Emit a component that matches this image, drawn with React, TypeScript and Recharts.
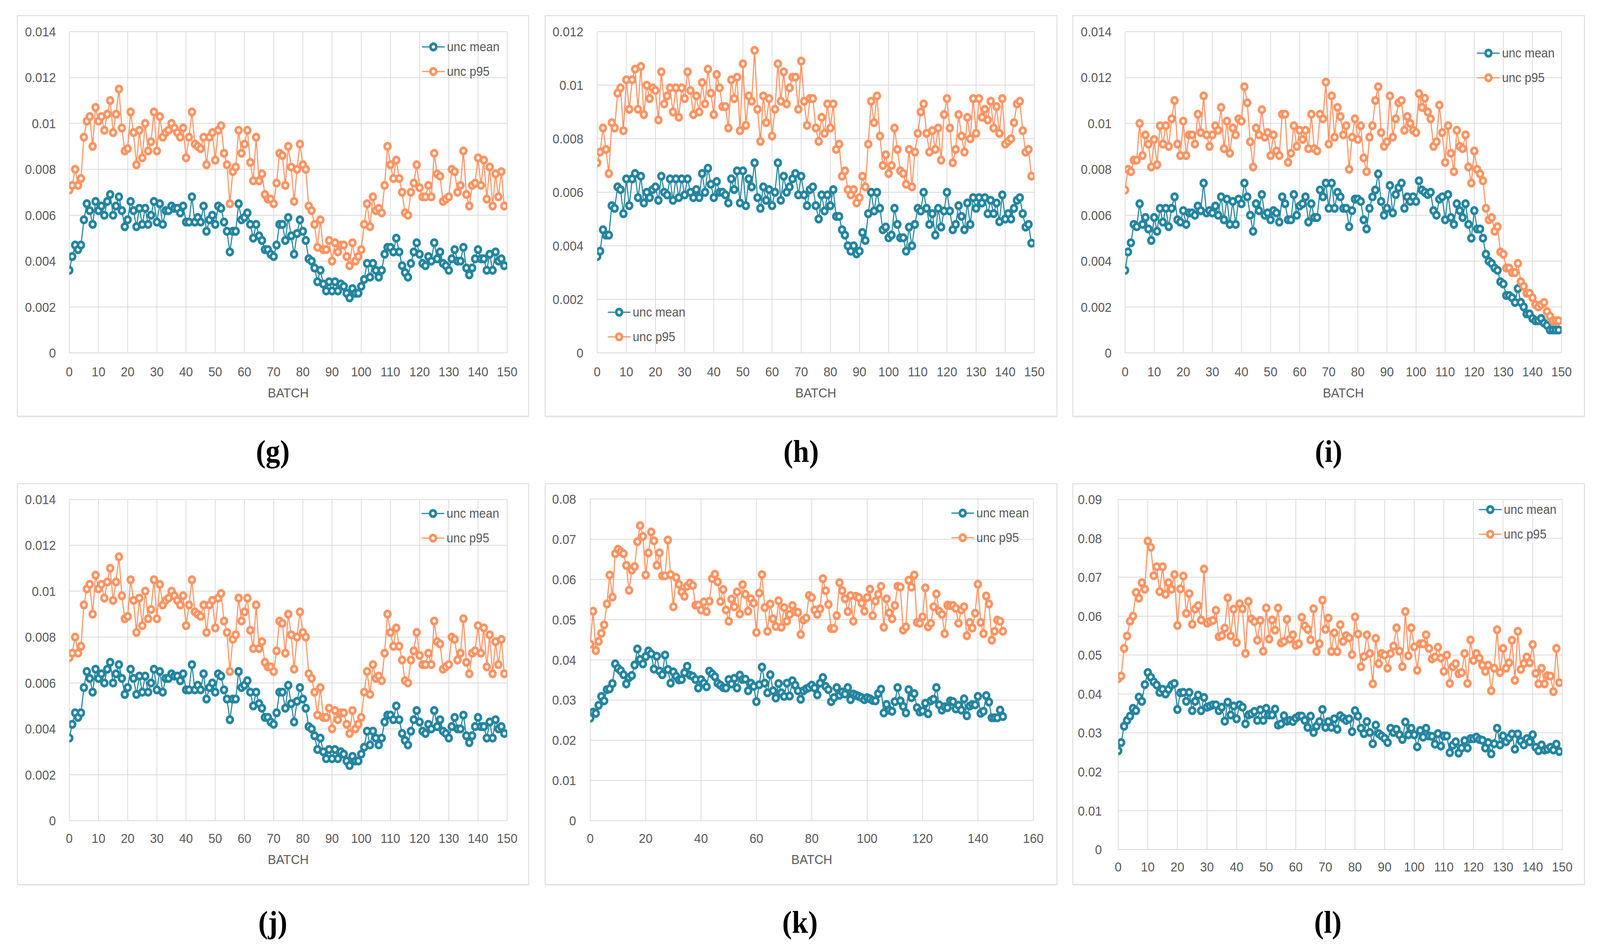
import React from "react";
import { LineChart, Line, XAxis, YAxis, CartesianGrid, Label } from "recharts";

const BLUE = "#2385a0";
const ORANGE = "#ff9361";
const GRID = "#d9d9d9";
const TEXT = "#595959";
const SANS = "'Liberation Sans', Arial, sans-serif";

const FIG_W = 4410;
const FIG_H = 2431;

/* -----------------------------
   DATA
------------------------------ */
const gMean = [
  0.0036,0.0042,0.0047,0.0045,0.0047,0.0058,0.0065,0.0062,0.0056,0.0066,
  0.0062,0.0064,0.0060,0.0066,0.0069,0.0060,0.0064,0.0068,0.0062,0.0055,
  0.0058,0.0066,0.0062,0.0055,0.0063,0.0056,0.0063,0.0056,0.0060,0.0066,
  0.0057,0.0065,0.0056,0.0062,0.0062,0.0064,0.0063,0.0063,0.0061,0.0064,
  0.0057,0.0057,0.0068,0.0057,0.0059,0.0057,0.0064,0.0053,0.0058,0.0060,
  0.0056,0.0064,0.0063,0.0057,0.0053,0.0044,0.0053,0.0053,0.0065,0.0058,
  0.0059,0.0061,0.0056,0.0050,0.0056,0.0051,0.0049,0.0045,0.0045,0.0043,
  0.0042,0.0047,0.0056,0.0056,0.0049,0.0059,0.0051,0.0043,0.0052,0.0058,
  0.0053,0.0049,0.0041,0.0040,0.0037,0.0031,0.0036,0.0030,0.0027,0.0031,
  0.0027,0.0031,0.0027,0.0030,0.0029,0.0026,0.0024,0.0028,0.0026,0.0026,
  0.0029,0.0032,0.0039,0.0033,0.0039,0.0036,0.0033,0.0036,0.0043,0.0046,
  0.0046,0.0044,0.0050,0.0044,0.0038,0.0035,0.0033,0.0039,0.0044,0.0048,
  0.0043,0.0039,0.0038,0.0042,0.0040,0.0048,0.0041,0.0044,0.0039,0.0038,
  0.0036,0.0041,0.0045,0.0040,0.0040,0.0046,0.0037,0.0034,0.0037,0.0041,
  0.0045,0.0041,0.0041,0.0036,0.0043,0.0036,0.0044,0.0040,0.0041,0.0038,
];
const gP95 = [
  0.0071,0.0073,0.0080,0.0073,0.0076,0.0094,0.0101,0.0103,0.0090,0.0107,
  0.0101,0.0103,0.0097,0.0104,0.0110,0.0096,0.0104,0.0115,0.0098,0.0088,
  0.0089,0.0105,0.0096,0.0082,0.0097,0.0085,0.0100,0.0088,0.0092,0.0105,
  0.0088,0.0103,0.0094,0.0096,0.0097,0.0100,0.0098,0.0096,0.0094,0.0098,
  0.0085,0.0094,0.0105,0.0091,0.0090,0.0089,0.0094,0.0082,0.0094,0.0096,
  0.0084,0.0097,0.0099,0.0087,0.0082,0.0065,0.0079,0.0081,0.0097,0.0087,
  0.0091,0.0097,0.0083,0.0075,0.0094,0.0075,0.0078,0.0069,0.0067,0.0067,
  0.0065,0.0074,0.0087,0.0086,0.0073,0.0090,0.0081,0.0066,0.0080,0.0091,
  0.0082,0.0080,0.0064,0.0062,0.0056,0.0046,0.0058,0.0045,0.0045,0.0049,
  0.0040,0.0048,0.0044,0.0047,0.0047,0.0042,0.0038,0.0048,0.0040,0.0042,
  0.0045,0.0056,0.0065,0.0055,0.0068,0.0062,0.0063,0.0061,0.0073,0.0090,
  0.0082,0.0076,0.0084,0.0076,0.0070,0.0061,0.0060,0.0070,0.0074,0.0082,
  0.0072,0.0068,0.0068,0.0073,0.0068,0.0087,0.0078,0.0077,0.0066,0.0067,
  0.0068,0.0080,0.0079,0.0070,0.0073,0.0088,0.0069,0.0064,0.0073,0.0074,
  0.0085,0.0073,0.0084,0.0067,0.0081,0.0064,0.0078,0.0068,0.0079,0.0064,
];

const hMean = [
  0.0036,0.0038,0.0046,0.0044,0.0044,0.0055,0.0054,0.0062,0.0061,0.0052,
  0.0065,0.0055,0.0065,0.0067,0.0058,0.0066,0.0056,0.0060,0.0058,0.0061,
  0.0062,0.0057,0.0066,0.0060,0.0059,0.0065,0.0057,0.0065,0.0058,0.0065,
  0.0059,0.0065,0.0060,0.0058,0.0061,0.0058,0.0067,0.0060,0.0069,0.0063,
  0.0058,0.0064,0.0060,0.0060,0.0059,0.0056,0.0065,0.0061,0.0068,0.0056,
  0.0068,0.0055,0.0065,0.0062,0.0071,0.0058,0.0054,0.0062,0.0057,0.0061,
  0.0055,0.0060,0.0071,0.0057,0.0066,0.0060,0.0062,0.0065,0.0067,0.0059,
  0.0066,0.0059,0.0055,0.0061,0.0062,0.0055,0.0050,0.0059,0.0053,0.0059,
  0.0055,0.0061,0.0051,0.0051,0.0046,0.0044,0.0040,0.0038,0.0040,0.0037,
  0.0038,0.0045,0.0042,0.0052,0.0060,0.0053,0.0060,0.0054,0.0046,0.0047,
  0.0043,0.0044,0.0054,0.0048,0.0043,0.0043,0.0038,0.0047,0.0040,0.0048,
  0.0054,0.0053,0.0060,0.0054,0.0048,0.0052,0.0044,0.0054,0.0047,0.0053,
  0.0060,0.0053,0.0046,0.0048,0.0055,0.0051,0.0046,0.0056,0.0048,0.0058,
  0.0054,0.0058,0.0056,0.0058,0.0052,0.0057,0.0052,0.0056,0.0049,0.0059,
  0.0050,0.0052,0.0050,0.0054,0.0057,0.0058,0.0052,0.0047,0.0048,0.0041,
];
const hP95 = [
  0.0071,0.0075,0.0084,0.0076,0.0067,0.0086,0.0084,0.0097,0.0099,0.0083,
  0.0102,0.0091,0.0102,0.0106,0.0091,0.0107,0.0089,0.0100,0.0095,0.0099,
  0.0098,0.0087,0.0105,0.0093,0.0096,0.0099,0.0090,0.0099,0.0088,0.0099,
  0.0095,0.0105,0.0098,0.0089,0.0096,0.0090,0.0101,0.0093,0.0106,0.0097,
  0.0089,0.0104,0.0099,0.0092,0.0092,0.0084,0.0102,0.0095,0.0103,0.0083,
  0.0108,0.0085,0.0096,0.0094,0.0113,0.0091,0.0079,0.0096,0.0086,0.0095,
  0.0081,0.0091,0.0108,0.0094,0.0105,0.0093,0.0099,0.0103,0.0103,0.0091,
  0.0109,0.0094,0.0085,0.0095,0.0095,0.0084,0.0079,0.0088,0.0082,0.0093,
  0.0084,0.0093,0.0076,0.0078,0.0066,0.0068,0.0061,0.0059,0.0061,0.0056,
  0.0058,0.0066,0.0062,0.0078,0.0094,0.0086,0.0096,0.0081,0.0070,0.0074,
  0.0067,0.0070,0.0084,0.0076,0.0068,0.0067,0.0063,0.0076,0.0062,0.0075,
  0.0082,0.0090,0.0093,0.0082,0.0075,0.0083,0.0076,0.0084,0.0072,0.0089,
  0.0095,0.0084,0.0071,0.0076,0.0089,0.0081,0.0075,0.0088,0.0080,0.0095,
  0.0082,0.0095,0.0088,0.0091,0.0087,0.0094,0.0084,0.0092,0.0082,0.0095,
  0.0078,0.0079,0.0080,0.0086,0.0093,0.0094,0.0083,0.0075,0.0076,0.0066,
];

const iMean = [
  0.0036,0.0044,0.0048,0.0056,0.0055,0.0065,0.0056,0.0059,0.0054,0.0049,
  0.0059,0.0053,0.0063,0.0057,0.0063,0.0055,0.0063,0.0068,0.0058,0.0057,
  0.0062,0.0056,0.0061,0.0061,0.0060,0.0064,0.0062,0.0074,0.0061,0.0062,
  0.0061,0.0064,0.0060,0.0068,0.0058,0.0067,0.0056,0.0066,0.0056,0.0067,
  0.0065,0.0074,0.0068,0.0060,0.0053,0.0065,0.0062,0.0069,0.0060,0.0061,
  0.0058,0.0062,0.0061,0.0057,0.0068,0.0065,0.0058,0.0058,0.0069,0.0060,
  0.0064,0.0065,0.0068,0.0057,0.0065,0.0059,0.0059,0.0071,0.0068,0.0074,
  0.0063,0.0074,0.0063,0.0070,0.0068,0.0063,0.0063,0.0055,0.0062,0.0067,
  0.0067,0.0066,0.0058,0.0054,0.0063,0.0068,0.0071,0.0078,0.0066,0.0060,
  0.0063,0.0073,0.0061,0.0069,0.0072,0.0074,0.0063,0.0068,0.0066,0.0068,
  0.0066,0.0075,0.0071,0.0070,0.0069,0.0070,0.0062,0.0060,0.0067,0.0068,
  0.0058,0.0069,0.0059,0.0056,0.0065,0.0062,0.0059,0.0065,0.0056,0.0050,
  0.0062,0.0054,0.0054,0.0050,0.0043,0.0040,0.0039,0.0037,0.0036,0.0031,
  0.0030,0.0025,0.0025,0.0024,0.0022,0.0028,0.0022,0.0020,0.0017,0.0017,
  0.0015,0.0014,0.0014,0.0015,0.0013,0.0012,0.0010,0.0010,0.0010,0.0010,
];
const iP95 = [
  0.0071,0.0080,0.0079,0.0084,0.0084,0.0100,0.0086,0.0095,0.0091,0.0081,
  0.0093,0.0082,0.0099,0.0091,0.0099,0.0090,0.0102,0.0110,0.0091,0.0086,
  0.0101,0.0086,0.0095,0.0095,0.0091,0.0104,0.0096,0.0112,0.0095,0.0090,
  0.0095,0.0099,0.0097,0.0107,0.0089,0.0101,0.0087,0.0098,0.0095,0.0102,
  0.0101,0.0116,0.0109,0.0092,0.0081,0.0098,0.0095,0.0106,0.0094,0.0096,
  0.0086,0.0095,0.0088,0.0086,0.0104,0.0104,0.0083,0.0087,0.0099,0.0090,
  0.0097,0.0093,0.0097,0.0089,0.0104,0.0089,0.0088,0.0104,0.0102,0.0118,
  0.0091,0.0112,0.0094,0.0107,0.0103,0.0095,0.0099,0.0080,0.0094,0.0102,
  0.0093,0.0099,0.0085,0.0079,0.0094,0.0099,0.0110,0.0116,0.0096,0.0090,
  0.0092,0.0112,0.0094,0.0102,0.0109,0.0110,0.0097,0.0103,0.0100,0.0097,
  0.0096,0.0113,0.0107,0.0111,0.0105,0.0102,0.0090,0.0092,0.0108,0.0096,
  0.0083,0.0099,0.0087,0.0079,0.0097,0.0090,0.0089,0.0095,0.0081,0.0074,
  0.0088,0.0080,0.0078,0.0075,0.0063,0.0058,0.0059,0.0053,0.0055,0.0044,
  0.0043,0.0037,0.0037,0.0035,0.0035,0.0039,0.0031,0.0029,0.0026,0.0026,
  0.0024,0.0021,0.0020,0.0021,0.0022,0.0018,0.0016,0.0014,0.0014,0.0014,
];

const kMean = [
  0.0255,0.0270,0.0267,0.0287,0.0309,0.0298,0.0326,0.0328,0.0341,0.0390,
  0.0379,0.0373,0.0363,0.0340,0.0356,0.0361,0.0387,0.0427,0.0401,0.0390,
  0.0408,0.0422,0.0415,0.0377,0.0409,0.0372,0.0363,0.0412,0.0376,0.0342,
  0.0370,0.0359,0.0350,0.0351,0.0368,0.0384,0.0362,0.0359,0.0351,0.0330,
  0.0351,0.0342,0.0333,0.0372,0.0365,0.0358,0.0342,0.0337,0.0331,0.0330,
  0.0351,0.0340,0.0354,0.0330,0.0362,0.0351,0.0352,0.0323,0.0342,0.0334,
  0.0296,0.0338,0.0382,0.0342,0.0318,0.0363,0.0323,0.0305,0.0341,0.0318,
  0.0309,0.0342,0.0310,0.0348,0.0337,0.0323,0.0302,0.0323,0.0328,0.0331,
  0.0337,0.0330,0.0313,0.0342,0.0356,0.0334,0.0326,0.0296,0.0306,0.0331,
  0.0312,0.0320,0.0315,0.0331,0.0301,0.0315,0.0312,0.0309,0.0306,0.0301,
  0.0306,0.0303,0.0299,0.0298,0.0316,0.0327,0.0268,0.0289,0.0275,0.0272,
  0.0296,0.0331,0.0298,0.0284,0.0268,0.0326,0.0306,0.0316,0.0281,0.0270,
  0.0273,0.0292,0.0266,0.0298,0.0302,0.0331,0.0288,0.0275,0.0283,0.0281,
  0.0298,0.0296,0.0278,0.0287,0.0275,0.0303,0.0261,0.0285,0.0289,0.0288,
  0.0309,0.0267,0.0272,0.0311,0.0295,0.0256,0.0256,0.0256,0.0275,0.0259,
];
const kP95 = [
  0.0439,0.0521,0.0423,0.0446,0.0466,0.0487,0.0539,0.0611,0.0556,0.0664,
  0.0675,0.0669,0.0664,0.0635,0.0573,0.0623,0.0632,0.0694,0.0734,0.0707,
  0.0611,0.0666,0.0718,0.0696,0.0635,0.0666,0.0609,0.0609,0.0698,0.0612,
  0.0532,0.0605,0.0588,0.0569,0.0558,0.0583,0.0591,0.0585,0.0536,0.0536,
  0.0524,0.0544,0.0520,0.0546,0.0602,0.0613,0.0594,0.0545,0.0575,0.0524,
  0.0496,0.0551,0.0532,0.0569,0.0514,0.0587,0.0563,0.0521,0.0552,0.0541,
  0.0468,0.0566,0.0612,0.0530,0.0471,0.0539,0.0502,0.0483,0.0547,0.0481,
  0.0530,0.0496,0.0513,0.0535,0.0520,0.0518,0.0463,0.0499,0.0504,0.0560,
  0.0555,0.0524,0.0513,0.0527,0.0602,0.0572,0.0538,0.0478,0.0478,0.0510,
  0.0592,0.0572,0.0552,0.0520,0.0560,0.0496,0.0558,0.0555,0.0541,0.0521,
  0.0555,0.0576,0.0510,0.0546,0.0563,0.0583,0.0481,0.0552,0.0517,0.0502,
  0.0535,0.0583,0.0581,0.0474,0.0482,0.0598,0.0581,0.0611,0.0493,0.0491,
  0.0507,0.0579,0.0482,0.0491,0.0532,0.0564,0.0521,0.0513,0.0465,0.0536,
  0.0535,0.0535,0.0528,0.0491,0.0524,0.0532,0.0460,0.0493,0.0479,0.0516,
  0.0588,0.0493,0.0465,0.0559,0.0539,0.0449,0.0471,0.0499,0.0496,0.0471,
];

const lMean = [
  0.0254,0.0275,0.0317,0.0332,0.0343,0.0363,0.0357,0.0392,0.0381,0.0424,
  0.0455,0.0443,0.0431,0.0423,0.0404,0.0412,0.0400,0.0412,0.0423,0.0427,
  0.0360,0.0403,0.0404,0.0381,0.0404,0.0357,0.0381,0.0397,0.0357,0.0391,
  0.0366,0.0369,0.0372,0.0372,0.0357,0.0366,0.0330,0.0379,0.0346,0.0369,
  0.0336,0.0372,0.0366,0.0323,0.0346,0.0349,0.0355,0.0332,0.0359,0.0332,
  0.0363,0.0346,0.0346,0.0361,0.0320,0.0323,0.0344,0.0330,0.0332,0.0329,
  0.0338,0.0343,0.0343,0.0332,0.0314,0.0343,0.0301,0.0317,0.0329,0.0360,
  0.0314,0.0329,0.0314,0.0336,0.0309,0.0344,0.0338,0.0332,0.0336,0.0303,
  0.0357,0.0343,0.0312,0.0298,0.0329,0.0301,0.0272,0.0320,0.0298,0.0292,
  0.0286,0.0275,0.0312,0.0301,0.0309,0.0295,0.0283,0.0328,0.0295,0.0312,
  0.0295,0.0264,0.0306,0.0289,0.0312,0.0292,0.0291,0.0271,0.0298,0.0266,
  0.0292,0.0292,0.0249,0.0268,0.0277,0.0248,0.0261,0.0280,0.0261,0.0285,
  0.0285,0.0289,0.0283,0.0281,0.0261,0.0275,0.0246,0.0272,0.0312,0.0269,
  0.0292,0.0277,0.0287,0.0297,0.0258,0.0297,0.0279,0.0269,0.0285,0.0277,
  0.0295,0.0263,0.0254,0.0269,0.0256,0.0258,0.0263,0.0256,0.0271,0.0252,
];
const lP95 = [
  0.0439,0.0446,0.0517,0.0549,0.0587,0.0600,0.0661,0.0646,0.0686,0.0669,
  0.0793,0.0777,0.0704,0.0727,0.0663,0.0727,0.0656,0.0686,0.0669,0.0707,
  0.0576,0.0670,0.0703,0.0607,0.0658,0.0579,0.0618,0.0627,0.0590,0.0721,
  0.0582,0.0586,0.0589,0.0615,0.0547,0.0550,0.0569,0.0647,0.0549,0.0618,
  0.0532,0.0632,0.0619,0.0504,0.0638,0.0593,0.0586,0.0538,0.0589,0.0510,
  0.0621,0.0541,0.0590,0.0564,0.0621,0.0531,0.0535,0.0592,0.0541,0.0552,
  0.0525,0.0529,0.0597,0.0575,0.0566,0.0539,0.0619,0.0509,0.0529,0.0641,
  0.0566,0.0595,0.0509,0.0557,0.0509,0.0578,0.0535,0.0550,0.0544,0.0501,
  0.0598,0.0554,0.0470,0.0496,0.0552,0.0504,0.0426,0.0543,0.0478,0.0504,
  0.0500,0.0466,0.0504,0.0523,0.0570,0.0510,0.0470,0.0612,0.0498,0.0570,
  0.0521,0.0461,0.0529,0.0529,0.0552,0.0517,0.0490,0.0495,0.0520,0.0492,
  0.0458,0.0500,0.0427,0.0470,0.0478,0.0452,0.0455,0.0504,0.0427,0.0539,
  0.0486,0.0504,0.0492,0.0474,0.0458,0.0474,0.0408,0.0466,0.0565,0.0455,
  0.0517,0.0466,0.0480,0.0538,0.0435,0.0561,0.0463,0.0478,0.0495,0.0480,
  0.0527,0.0453,0.0426,0.0466,0.0426,0.0447,0.0446,0.0406,0.0517,0.0429,
];

const X_TICKS_150 = [0, 10, 20, 30, 40, 50, 60, 70, 80, 90, 100, 110, 120, 130, 140, 150];
const X_TICKS_160 = [0, 20, 40, 60, 80, 100, 120, 140, 160];
const Y_TICKS_014 = [0, 0.002, 0.004, 0.006, 0.008, 0.01, 0.012, 0.014];
const Y_TICKS_012 = [0, 0.002, 0.004, 0.006, 0.008, 0.01, 0.012];
const Y_TICKS_08 = [0, 0.01, 0.02, 0.03, 0.04, 0.05, 0.06, 0.07, 0.08];
const Y_TICKS_09 = [0, 0.01, 0.02, 0.03, 0.04, 0.05, 0.06, 0.07, 0.08, 0.09];

const SERIES = [
  { key: "mean", name: "unc mean", color: BLUE },
  { key: "p95", name: "unc p95", color: ORANGE },
];

/* -----------------------------
   LAYOUT (figure pixels)
------------------------------ */
const PANELS = [
  {
    id: "g", mean: gMean, p95: gP95, xTicks: X_TICKS_150, yTicks: Y_TICKS_014,
    box: { x: 47, y: 39, w: 1411, h: 1027 }, plot: { l: 191, r: 1398, t: 81, b: 903 },
    legend: { x: 1163, y: 119 }, label: { x: 752, y: 1155 }, batch: 1017, xh: 130, xGap: 36, yGap: 37,
  },
  {
    id: "h", mean: hMean, p95: hP95, xTicks: X_TICKS_150, yTicks: Y_TICKS_012,
    box: { x: 1502, y: 39, w: 1412, h: 1027 }, plot: { l: 1646, r: 2851, t: 81, b: 903 },
    legend: { x: 1675, y: 798 }, label: { x: 2208, y: 1155 }, batch: 1017, xh: 130, xGap: 36, yGap: 38,
  },
  {
    id: "i", mean: iMean, p95: iP95, xTicks: X_TICKS_150, yTicks: Y_TICKS_014,
    box: { x: 2956, y: 39, w: 1412, h: 1027 }, plot: { l: 3101, r: 4304, t: 81, b: 903 },
    legend: { x: 4071, y: 135 }, label: { x: 3662, y: 1155 }, batch: 1017, xh: 130, xGap: 36, yGap: 37,
  },
  {
    id: "j", mean: gMean, p95: gP95, xTicks: X_TICKS_150, yTicks: Y_TICKS_014,
    box: { x: 47, y: 1237, w: 1411, h: 1027 }, plot: { l: 191, r: 1398, t: 1278, b: 2100 },
    legend: { x: 1162, y: 1313 }, label: { x: 752, y: 2360 }, batch: 2211, xh: 130, xGap: 33, yGap: 37,
  },
  {
    id: "k", mean: kMean, p95: kP95, xTicks: X_TICKS_160, yTicks: Y_TICKS_08,
    box: { x: 1502, y: 1237, w: 1412, h: 1027 }, plot: { l: 1627, r: 2848, t: 1277, b: 2100 },
    legend: { x: 2622, y: 1312 }, label: { x: 2205, y: 2360 }, batch: 2211, xh: 130, xGap: 33, yGap: 39,
  },
  {
    id: "l", mean: lMean, p95: lP95, xTicks: X_TICKS_150, yTicks: Y_TICKS_09,
    box: { x: 2956, y: 1237, w: 1412, h: 1027 }, plot: { l: 3082, r: 4306, t: 1278, b: 2174 },
    legend: { x: 4076, y: 1303 }, label: { x: 3660, y: 2360 }, batch: null, xh: 80, xGap: 32, yGap: 45,
  },
];

const tickStyle = { fontSize: 34, fill: TEXT, fontFamily: SANS };
const MARKER_R = 8;
const MARKER_W = 7;

function SeriesLegend({ x, y }: { x: number; y: number }) {
  return (
    <div style={{ position: "absolute", left: x, top: y - 31, fontFamily: SANS, fontSize: 33, color: TEXT }}>
      {SERIES.map((s) => (
        <div key={s.key} style={{ display: "flex", alignItems: "center", height: 63 }}>
          <svg width={63} height={30}>
            <line x1={0} y1={15} x2={63} y2={15} stroke={s.color} strokeWidth={3} />
            <circle cx={31.5} cy={15} r={MARKER_R} fill="#fff" stroke={s.color} strokeWidth={MARKER_W} />
          </svg>
          <span style={{ marginLeft: 6, whiteSpace: "nowrap" }}>{s.name}</span>
        </div>
      ))}
    </div>
  );
}

function Panel({ p }: { p: any }) {
  const rows = p.mean.map((m: number, i: number) => ({ batch: i, mean: m, p95: p.p95[i] }));
  const xMax = p.xTicks[p.xTicks.length - 1];
  const yMax = p.yTicks[p.yTicks.length - 1];
  const margin = {
    top: p.plot.t - p.box.y,
    right: p.box.x + p.box.w - p.plot.r,
    bottom: p.box.y + p.box.h - p.plot.b - p.xh,
    left: 0,
  };

  return (
    <>
      <div
        style={{
          position: "absolute", left: p.box.x, top: p.box.y, width: p.box.w, height: p.box.h,
          border: `2px solid ${GRID}`, boxSizing: "border-box", boxShadow: "0 2px 4px rgba(0,0,0,0.08)",
        }}
      />
      <div style={{ position: "absolute", left: p.box.x, top: p.box.y }}>
        <LineChart width={p.box.w} height={p.box.h} data={rows} margin={margin}>
          <CartesianGrid stroke={GRID} strokeWidth={2} />
          <XAxis
            type="number"
            dataKey="batch"
            domain={[0, xMax]}
            ticks={p.xTicks}
            height={p.xh}
            allowDataOverflow
            tickLine={false}
            tickSize={0}
            tickMargin={p.xGap}
            axisLine={{ stroke: GRID, strokeWidth: 2 }}
            tick={tickStyle}
          >
            {p.batch !== null && (
              <Label value="BATCH" position="insideBottom" offset={p.plot.b + p.xh - p.batch} style={tickStyle} />
            )}
          </XAxis>
          <YAxis
            type="number"
            domain={[0, yMax]}
            ticks={p.yTicks}
            width={p.plot.l - p.box.x}
            allowDataOverflow
            tickLine={false}
            tickSize={0}
            tickMargin={p.yGap}
            axisLine={false}
            tick={tickStyle}
            tickFormatter={(v: number) => String(v)}
          />
          {SERIES.map((s) => (
            <Line
              key={s.key}
              type="linear"
              dataKey={s.key}
              stroke={s.color}
              strokeWidth={3}
              dot={{ r: MARKER_R, strokeWidth: MARKER_W, fill: "#fff", stroke: s.color }}
              activeDot={false}
              isAnimationActive={false}
            />
          ))}
        </LineChart>
      </div>
      <SeriesLegend x={p.legend.x} y={p.legend.y} />
      <div
        style={{
          position: "absolute", left: p.label.x, top: p.label.y, transform: "translate(-50%, -50%)",
          fontFamily: "'Liberation Serif', 'Times New Roman', serif", fontWeight: "bold", fontSize: 80,
          lineHeight: 1, color: "#000", whiteSpace: "nowrap",
        }}
      >
        ({p.id})
      </div>
    </>
  );
}

export default function App() {
  // the visible page is not always 4410x2431 css px, so stretch the figure onto it
  const vw = typeof window !== "undefined" ? document.documentElement.clientWidth || window.innerWidth : FIG_W;
  const vh = typeof window !== "undefined" ? document.documentElement.clientHeight || window.innerHeight : FIG_H;
  const sx = vw / FIG_W || 1;
  const sy = vh / FIG_H || 1;

  if (typeof document !== "undefined") {
    document.body.style.margin = "0";
    document.body.style.overflow = "hidden";
  }

  return (
    <div
      style={{
        position: "absolute", left: 0, top: 0, width: FIG_W * sx, height: FIG_H * sy,
        overflow: "hidden", background: "#fff",
      }}
    >
      <div
        style={{
          position: "absolute", left: 0, top: 0, width: FIG_W, height: FIG_H,
          transform: `scale(${sx}, ${sy})`, transformOrigin: "0 0", background: "#fff",
        }}
      >
        {PANELS.map((p) => (
          <Panel key={p.id} p={p} />
        ))}
      </div>
    </div>
  );
}
